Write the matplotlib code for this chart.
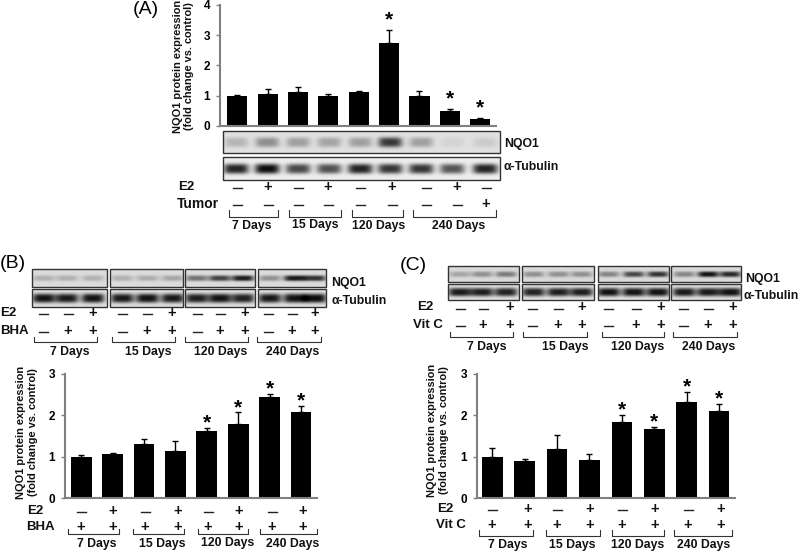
import numpy as np
import matplotlib
matplotlib.use('Agg')
import matplotlib.pyplot as plt
from matplotlib.patches import Rectangle

plt.rcParams['font.family'] = ['Liberation Sans', 'DejaVu Sans']

W, H = 798, 553

# panel A values
a_vals = [1.0, 1.04, 1.12, 1.0, 1.13, 2.74, 1.0, 0.5, 0.23]
a_tops = [1.02, 1.23, 1.27, 1.07, 1.17, 3.17, 1.15, 0.57, 0.27]
a_star = [5, 7, 8]
a_e2 = '-+-+-+-+-'
a_tumor = '--------+'
a_nqo1 = [0.2, 0.38, 0.3, 0.28, 0.3, 0.78, 0.3, 0.06, 0.1]
a_tub = [0.88, 0.98, 0.72, 0.68, 0.88, 0.8, 0.8, 0.66, 0.88]

# panel B values
b_vals = [1.0, 1.06, 1.3, 1.15, 1.62, 1.8, 2.44, 2.07]
b_tops = [1.05, 1.09, 1.43, 1.38, 1.69, 2.07, 2.52, 2.22]
b_star = [4, 5, 6, 7]
b_nqo1 = [[0.2, 0.2, 0.2], [0.2, 0.22, 0.25], [0.5, 0.72, 0.9], [0.35, 0.92, 0.8]]
b_tub = [[0.95, 0.92, 0.95], [0.92, 0.95, 0.92], [0.9, 0.95, 0.88], [0.92, 0.95, 0.98]]

# panel C values
c_vals = [1.0, 0.89, 1.18, 0.93, 1.84, 1.66, 2.32, 2.11]
c_tops = [1.2, 0.95, 1.53, 1.06, 2.0, 1.72, 2.56, 2.28]
c_star = [4, 5, 6, 7]
c_nqo1 = [[0.25, 0.35, 0.45], [0.35, 0.35, 0.35], [0.4, 0.7, 0.8], [0.4, 0.95, 0.85]]
c_tub = [[0.92, 0.9, 0.88], [0.88, 0.9, 0.9], [0.95, 0.95, 0.95], [0.92, 0.92, 0.95]]

days = ['7 Days', '15 Days', '120 Days', '240 Days']
ylab = 'NQO1 protein expression\n(fold change vs. control)'

fig = plt.figure(figsize=(W / 100, H / 100), dpi=100)
ov = fig.add_axes([0, 0, 1, 1])
ov.axis('off')


def bold(x, y, s, size=8.8, ha='center'):
    ov.text(x, y, s, fontsize=size, fontweight='bold', ha=ha, va='center', color='#111111')


def yname(x, y):
    ov.text(x, y, ylab, fontsize=7.9, fontweight='bold', rotation=90, ha='center', va='center', color='#111111')


def signs(xs, y, row):
    for x, s in zip(xs, row):
        if s == '+':
            bold(x, y, '+', 10.5)
        else:
            ov.plot([x - 4.5, x + 4.5], [y + 1, y + 1], color='#222222', lw=1)


def bracket(x0, x1, y0, y1):
    ov.plot([x0, x0, x1, x1], [y0, y1, y1, y0], color='#333333', lw=0.8)


def blot(x0, x1, y0, y1, lanes, levels, band_w, band_h, bg):
    # lanes and levels give one soft band per lane
    xx, yy = np.meshgrid(np.arange(x0, x1, 0.5), np.arange(y0, y1, 0.5))
    yc = (y0 + y1) / 2
    img = np.full(xx.shape, bg)
    for lx, lev in zip(lanes, levels):
        px = np.exp(-np.abs((xx - lx) / band_w) ** 4)
        py = np.exp(-np.abs((yy - yc) / band_h) ** 3)
        img = img - (bg - 0.03) * lev * px * py
    ov.imshow(img, cmap='gray', vmin=0, vmax=1, extent=(x0, x1, y1, y0),
              aspect='auto', interpolation='bilinear', zorder=1)
    ov.add_patch(Rectangle((x0, y0), x1 - x0, y1 - y0, fill=False, ec='#333333', lw=1, zorder=2))


def bars(box, xlim, vals, tops, stars, width, ymax, star_off):
    x0, x1, ybase, ytop = box
    ax = fig.add_axes([x0 / W, 1 - ybase / H, (x1 - x0) / W, (ybase - ytop) / H])
    ax.patch.set_alpha(0)
    xs = np.arange(len(vals))
    errs = np.array(tops) - np.array(vals)
    ax.bar(xs, vals, width=width, color='black',
           yerr=[np.zeros(len(vals)), errs], ecolor='black',
           error_kw=dict(elinewidth=1, capsize=2.5, capthick=1))
    for i in stars:
        ax.annotate('*', (i, tops[i]), xytext=(0, star_off), textcoords='offset points',
                    ha='center', va='center', fontsize=15, fontweight='bold', annotation_clip=False)
    ax.set_xlim(*xlim)
    ax.set_ylim(0, ymax)
    ax.set_yticks(range(ymax + 1))
    ax.set_xticks([])
    for s in ['top', 'right']:
        ax.spines[s].set_visible(False)
    for s in ['left', 'bottom']:
        ax.spines[s].set_color('#808080')
        ax.spines[s].set_linewidth(1.5)
    ax.tick_params(axis='y', length=3, width=1, color='#808080', labelsize=8.5, pad=4)
    for t in ax.get_yticklabels():
        t.set_fontweight('bold')
    return ax


# panel A
bars((220, 496, 126, 4.7), (-0.57, 8.52), a_vals, a_tops, a_star, 0.66, 4, 7)
ov.text(133, 10, '(A)', fontsize=14, ha='left', va='center')
yname(183.5, 66)
a_lanes = [236, 267, 298, 329, 360, 390, 421, 452, 485]
blot(223, 500, 131, 153, a_lanes, a_nqo1, 12, 5, 0.88)
blot(223, 500, 157, 180, a_lanes, a_tub, 12.5, 5, 0.93)
bold(504, 144, 'NQO1', 8.8, 'left')
bold(503, 167, 'α-Tubulin', 8.8, 'left')
a_sign_x = [237, 268, 298, 328, 360, 392, 426, 457, 486]
bold(186, 187, 'E2', 9.5)
bold(198, 204, 'Tumor', 10)
signs(a_sign_x, 187, a_e2)
signs(a_sign_x, 204, a_tumor)
for (bx0, bx1), lx, ly, d in zip([(229, 278), (289, 341), (352, 403), (413, 496)],
                                 [252, 315, 379, 459], [226, 225, 226, 226], days):
    bracket(bx0, bx1, 209.5, 216.5)
    bold(lx, ly, d)

# panel B
bars((65, 316.7, 498.3, 373.7), (-0.52, 7.5), b_vals, b_tops, b_star, 0.66, 3, 3.5)
ov.text(0, 264, '(B)', fontsize=14, ha='left', va='center')
yname(27, 432)
b_boxes = [(32.3, 107.3), (110, 183.3), (185.3, 255), (258.3, 326)]
b_lanes = [[44, 67, 93], [122, 147, 172], [197, 220, 243], [270, 295, 315]]
for (x0, x1), lanes, n, t in zip(b_boxes, b_lanes, b_nqo1, b_tub):
    blot(x0, x1, 269.3, 286.7, lanes, n, 11, 2.8, 0.86)
    blot(x0, x1, 289.3, 306.7, lanes, t, 11.5, 4.5, 0.88)
bold(331.5, 282.7, 'NQO1', 8.8, 'left')
bold(331.5, 301, 'α-Tubulin', 8.8, 'left')
b_top_x = [43, 68, 93, 122, 147, 172, 197, 220, 245, 268, 292, 315]
bold(8, 313, 'E2', 9.5)
bold(14, 331, 'BHA', 9.5)
signs(b_top_x, 313, '--+' * 4)
signs(b_top_x, 330.5, '-++' * 4)
for (bx0, bx1), lx, d in zip([(34, 97), (112, 175), (185, 248), (257, 321)], [70, 148, 221, 293], days):
    bracket(bx0, bx1, 337, 342)
    bold(lx, 352.5, d)
b_low_x = [81, 113, 145, 178, 208, 239, 272, 303]
bold(35, 510.5, 'E2', 9.5)
bold(40, 527.5, 'BHA', 9.5)
signs(b_low_x, 510.5, '-+' * 4)
signs(b_low_x, 527, '+' * 8)
for (bx0, bx1), lx, ly, d in zip([(68, 119), (133, 184), (198, 248), (260, 317)],
                                 [97, 162, 228, 293], [544.5, 544.5, 543, 544.5], days):
    bracket(bx0, bx1, 528.5, 534)
    bold(lx, ly, d)

# panel C
bars((476.7, 735, 498.3, 373.7), (-0.48, 7.49), c_vals, c_tops, c_star, 0.64, 3, 3.5)
ov.text(400, 265, '(C)', fontsize=14, ha='left', va='center')
yname(438, 430)
c_boxes = [(448.3, 519.3), (521.7, 594.3), (597.7, 669), (671, 740.7)]
c_lanes = [[460, 482, 506], [533, 558, 581], [608, 633, 657], [684, 708, 730]]
for (x0, x1), lanes, n, t in zip(c_boxes, c_lanes, c_nqo1, c_tub):
    blot(x0, x1, 265.7, 281.7, lanes, n, 10.5, 2.8, 0.85)
    blot(x0, x1, 284.3, 300, lanes, t, 11.5, 4.2, 0.88)
bold(745, 279.3, 'NQO1', 8.8, 'left')
bold(743, 295.7, 'α-Tubulin', 8.8, 'left')
c_top_x = [460, 483, 510, 532, 558, 582, 608, 636, 661, 683, 708, 733]
bold(425, 307.5, 'E2', 9.5)
bold(428, 325, 'Vit C', 9.5)
signs(c_top_x, 307.5, '--+' * 4)
signs(c_top_x, 325, '-++' * 4)
for (bx0, bx1), lx, d in zip([(450, 513), (523, 587), (602, 664), (673, 737)], [487, 565, 638, 709], days):
    bracket(bx0, bx1, 332, 337)
    bold(lx, 347, d)
c_low_x = [492, 528, 557, 590, 622, 655, 688, 721]
bold(445, 509, 'E2', 9.5)
bold(451, 525.5, 'Vit C', 9.5)
signs(c_low_x, 509, '-+' * 4)
signs(c_low_x, 525.5, '+' * 8)
for (bx0, bx1), lx, d in zip([(479, 533), (546, 600), (612, 664), (674, 732)], [508, 572, 638, 704], days):
    bracket(bx0, bx1, 530, 536)
    bold(lx, 545, d)

ov.set_xlim(0, W)
ov.set_ylim(H, 0)
fig.savefig('out.png', dpi=100, facecolor='white')
